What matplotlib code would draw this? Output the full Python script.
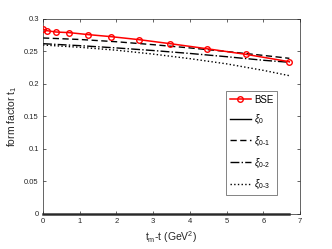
import matplotlib
matplotlib.use("Agg")
import matplotlib.pyplot as plt

# BSE data
bse_x = [0.0, 0.11, 0.35, 0.72, 1.23, 1.86, 2.62, 3.47, 4.46, 5.53, 6.71]
bse_y = [0.2846, 0.2820, 0.2800, 0.2790, 0.2760, 0.2728, 0.2682, 0.2620, 0.2543, 0.2456, 0.2343]

# model curves
curve_x = [0.0, 1.0, 2.0, 3.0, 4.0, 5.0, 6.0, 6.71]
xi0 = [0.0, 0.0, 0.0, 0.0, 0.0, 0.0, 0.0, 0.0]
xi01 = [0.2708, 0.2685, 0.2650, 0.2605, 0.2555, 0.2500, 0.2440, 0.2395]
xi02 = [0.2620, 0.2590, 0.2555, 0.2515, 0.2470, 0.2420, 0.2365, 0.2334]
xi03 = [0.2600, 0.2565, 0.2520, 0.2460, 0.2390, 0.2310, 0.2210, 0.2128]

xticks = [0, 1, 2, 3, 4, 5, 6, 7]
yticks = [0, 0.05, 0.1, 0.15, 0.2, 0.25, 0.3]
ytick_labels = ["0", "0.05", "0.1", "0.15", "0.2", "0.25", "0.3"]

plt.rcParams['font.family'] = ['Liberation Sans', 'DejaVu Sans']
plt.rcParams['mathtext.fontset'] = 'custom'
plt.rcParams['mathtext.rm'] = 'Liberation Sans'
plt.rcParams['mathtext.it'] = 'Liberation Sans:italic'

fig = plt.figure(figsize=(3.32, 2.49), dpi=100)
ax = fig.add_axes([0.1295, 0.1406, 0.7741, 0.7831])

ax.plot(bse_x, bse_y, color='red', marker='o', markersize=4.0, markerfacecolor='none',
        markeredgewidth=1.0, linewidth=1.1, label='BSE', zorder=5)
ax.plot(curve_x, xi0, color='#333333', linestyle='-', linewidth=1.8, label=r'$\xi_0$', clip_on=False)
ax.plot(curve_x, xi01, color='black', linestyle=(0, (4.5, 2.5)), linewidth=1.0, label=r'$\xi_{0\text{-}1}$')
ax.plot(curve_x, xi02, color='black', linestyle='-.', linewidth=1.0, label=r'$\xi_{0\text{-}2}$')
ax.plot(curve_x, xi03, color='black', linestyle=':', linewidth=1.0, label=r'$\xi_{0\text{-}3}$')

ax.set_xlim(0, 7)
ax.set_ylim(0, 0.3)
ax.set_xticks(xticks)
ax.set_yticks(yticks)
ax.set_yticklabels(ytick_labels)
ax.tick_params(direction='in', length=2.5, width=0.5, labelsize=5.5, colors='#262626',
               top=True, right=True, pad=3)
for s in ax.spines.values():
    s.set_linewidth(0.5)
    s.set_color('#262626')

ax.set_xlabel(r'$\mathrm{t_m}$-t (GeV$^2$)', fontsize=7.5, color='#262626', labelpad=3)
ax.set_ylabel(r'form factor $\mathrm{t_1}$', fontsize=7.5, color='#262626', labelpad=4)

leg = ax.legend(loc='upper left', fontsize=7,
                frameon=True, fancybox=False, edgecolor='#262626', handlelength=2.2,
                handletextpad=0.3, borderpad=0.4, labelspacing=0.85, borderaxespad=0)
leg.get_frame().set_linewidth(0.5)
leg.get_lines()[1].set_linewidth(1.0)
leg.get_lines()[1].set_color('black')
leg.set_bbox_to_anchor((225.7 / 332, 1 - 91 / 249), transform=fig.transFigure)

fig.savefig('out.png', dpi=100)
